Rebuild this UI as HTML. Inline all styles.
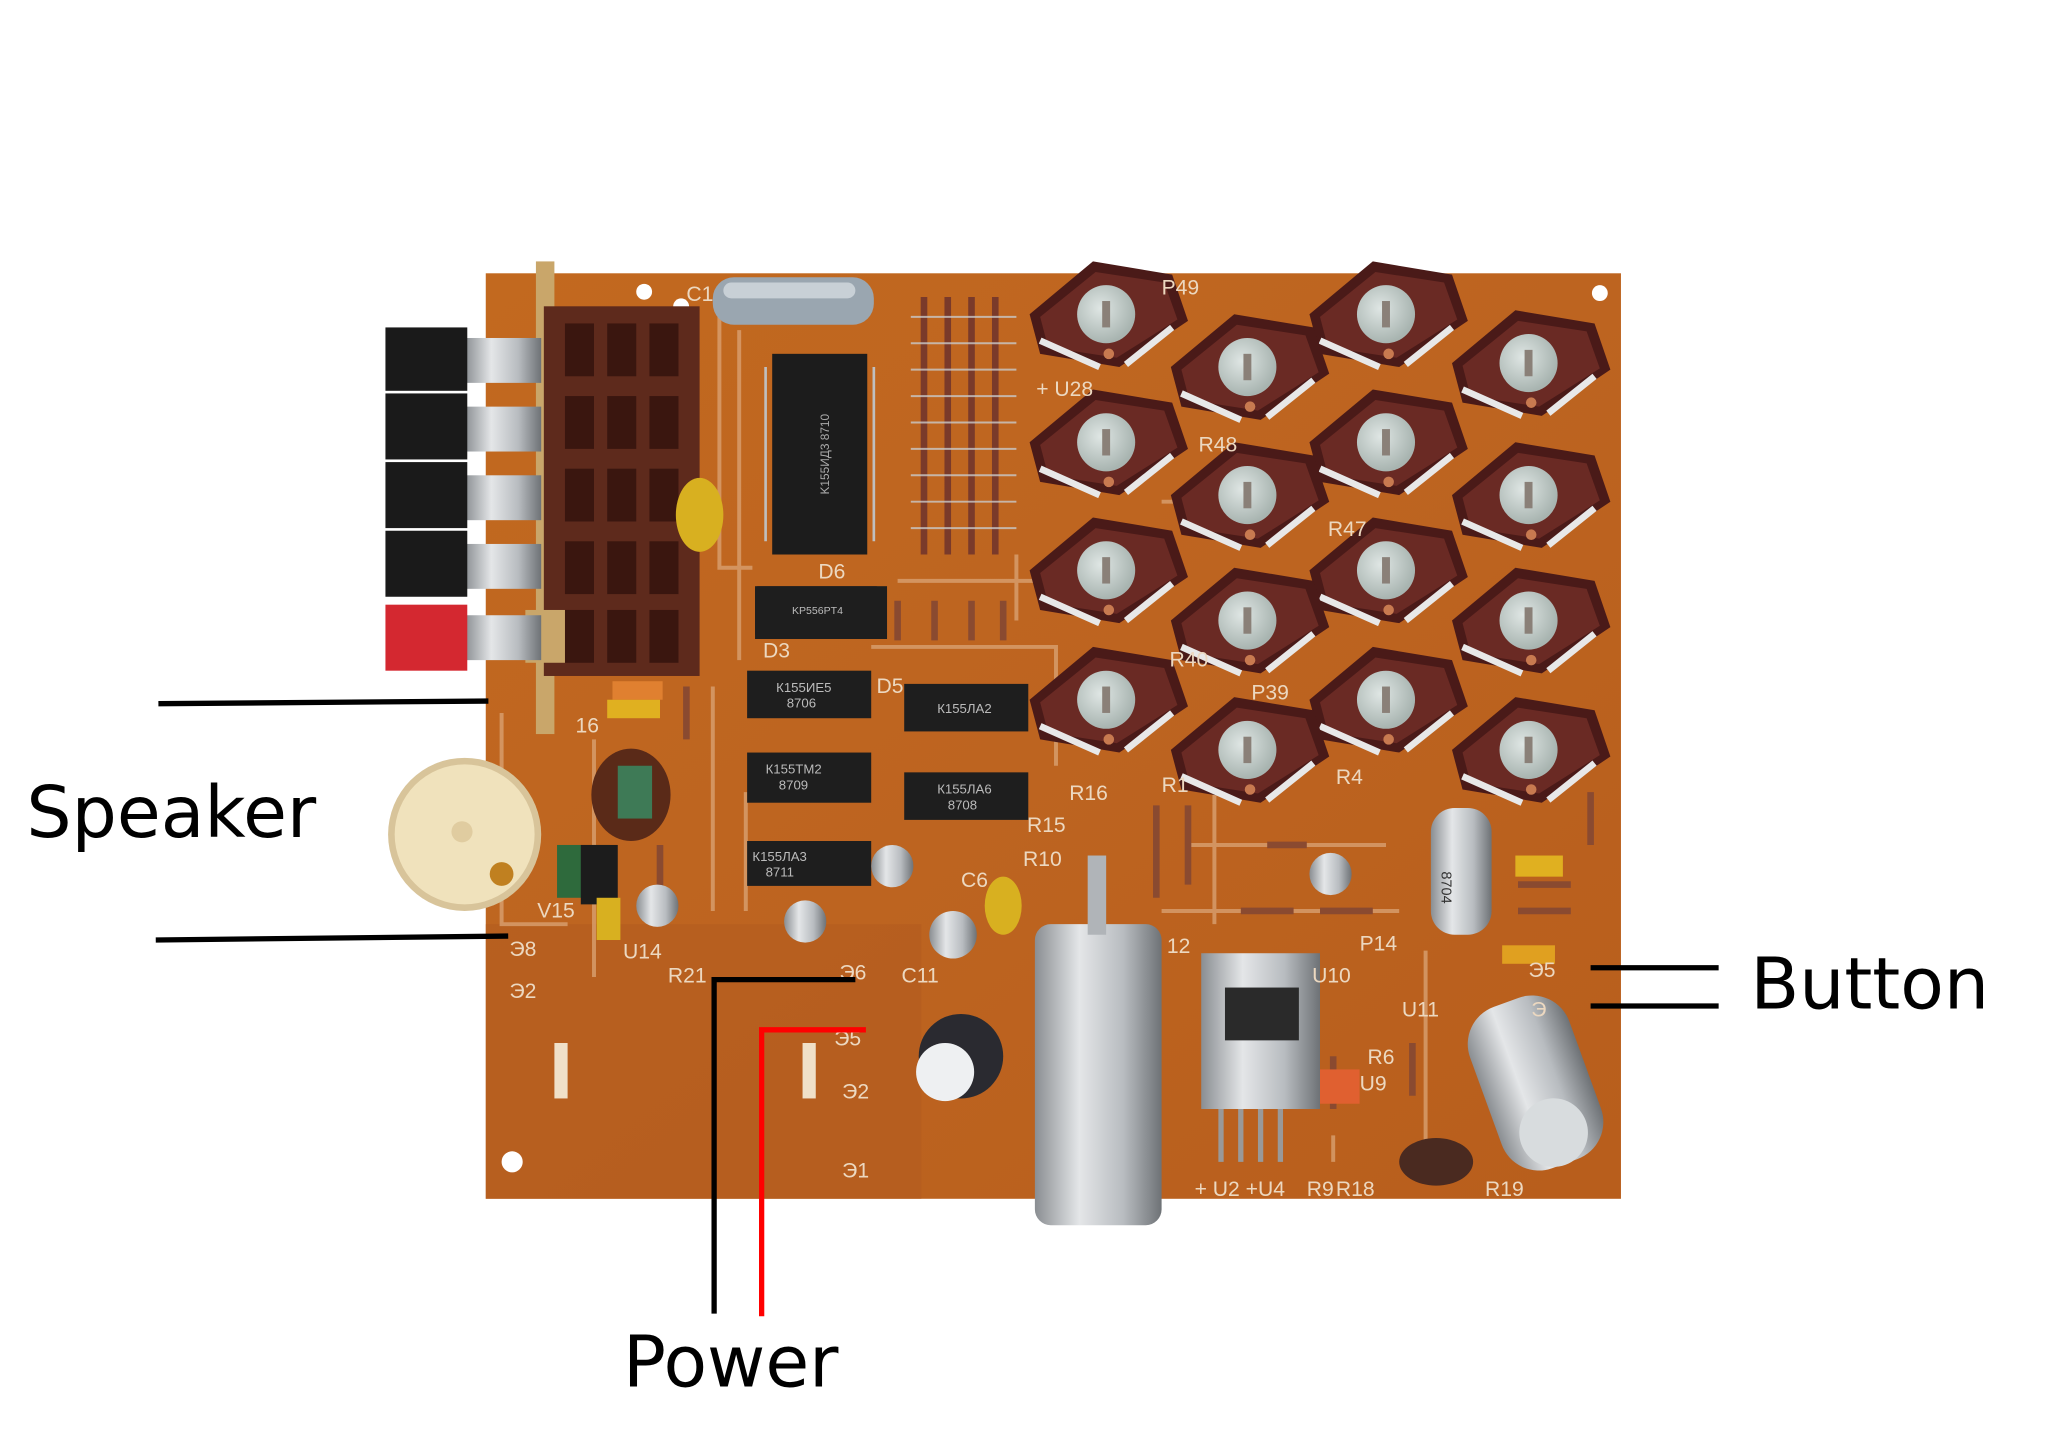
<!DOCTYPE html>
<html><head><meta charset="utf-8"><style>
html,body{margin:0;padding:0;background:#fff;}
svg{display:block;}
</style></head><body>
<svg width="2046" height="1447" viewBox="0 0 1550 1096" preserveAspectRatio="none" xmlns="http://www.w3.org/2000/svg">
<defs>
<linearGradient id="brd" x1="0" y1="0" x2="1" y2="1">
<stop offset="0" stop-color="#c2691f"/><stop offset="0.5" stop-color="#bd6420"/><stop offset="1" stop-color="#b85e1c"/>
</linearGradient>
<linearGradient id="met" x1="0" y1="0" x2="1" y2="0">
<stop offset="0" stop-color="#8a8e92"/><stop offset="0.35" stop-color="#e4e6e8"/><stop offset="0.7" stop-color="#b8bcc0"/><stop offset="1" stop-color="#6e7276"/>
</linearGradient>
<radialGradient id="pc" cx="0.4" cy="0.4" r="0.6"><stop offset="0" stop-color="#dfe6e4"/><stop offset="1" stop-color="#a8b4b0"/></radialGradient>
<g id="pot">
<polygon points="-58,0 -10,-40 50,-30 62,5 10,40 -50,30" fill="#4a1a18"/>
<polygon points="-50,2 -8,-32 44,-24 54,4 8,33 -44,25" fill="#6a2a24"/>
<line x1="-50" y1="20" x2="-5" y2="40" stroke="#e8e8e8" stroke-width="5"/>
<line x1="50" y1="10" x2="15" y2="38" stroke="#e8e8e8" stroke-width="5"/>
<circle r="22" fill="url(#pc)"/>
<rect x="-3" y="-10" width="6" height="20" fill="#8a8078"/>
<circle cx="2" cy="30" r="4" fill="#c87a50"/>
</g>
<g id="chip">
<rect width="94" height="38" rx="2" fill="#1e1e1e"/>
</g>
</defs>

<!-- board -->
<rect x="368" y="207" width="860" height="701" fill="url(#brd)"/>
<rect x="368" y="700" width="330" height="208" fill="#b35c20" opacity="0.6"/>
<circle cx="388" cy="880" r="8" fill="#fff"/>
<circle cx="488" cy="221" r="6" fill="#fff"/>
<circle cx="516" cy="232" r="6" fill="#fff"/>
<circle cx="1212" cy="222" r="6" fill="#fff"/>
<rect x="420" y="790" width="10" height="42" fill="#f0e0c8"/>
<rect x="608" y="790" width="10" height="42" fill="#f0e0c8"/>

<!-- traces -->
<g fill="none" stroke="#d8a070" stroke-width="3" opacity="0.8">
<path d="M545 240 V430 H570 M560 250 V500 M540 520 V690 M380 540 V700 H430 M450 560 V740 M565 600 V690 M680 440 H800 M660 490 H800 V580 M900 640 H1050 M880 690 H1060 M1080 720 V880 M1010 860 V880 M880 380 H1000 M770 420 V470 M920 600 V700"/>
</g>

<!-- tab -->
<rect x="406" y="198" width="14" height="358" fill="#c9a66a"/>
<!-- connector block -->
<rect x="412" y="232" width="118" height="280" fill="#5e2a1c"/>
<g fill="#3a160f">
<rect x="428" y="245" width="22" height="40"/><rect x="460" y="245" width="22" height="40"/><rect x="492" y="245" width="22" height="40"/>
<rect x="428" y="300" width="22" height="40"/><rect x="460" y="300" width="22" height="40"/><rect x="492" y="300" width="22" height="40"/>
<rect x="428" y="355" width="22" height="40"/><rect x="460" y="355" width="22" height="40"/><rect x="492" y="355" width="22" height="40"/>
<rect x="428" y="410" width="22" height="40"/><rect x="460" y="410" width="22" height="40"/><rect x="492" y="410" width="22" height="40"/>
<rect x="428" y="462" width="22" height="40"/><rect x="460" y="462" width="22" height="40"/><rect x="492" y="462" width="22" height="40"/>
</g>
<rect x="398" y="462" width="30" height="40" fill="#c9a66a"/>
<!-- springs -->
<g fill="url(#met)">
<rect x="352" y="256" width="58" height="34"/><rect x="352" y="308" width="58" height="34"/>
<rect x="352" y="360" width="58" height="34"/><rect x="352" y="412" width="58" height="34"/>
<rect x="352" y="466" width="58" height="34"/>
</g>
<!-- keys -->
<rect x="292" y="248" width="62" height="48" fill="#1a1a1a"/>
<rect x="292" y="298" width="62" height="50" fill="#1a1a1a"/>
<rect x="292" y="350" width="62" height="50" fill="#1a1a1a"/>
<rect x="292" y="402" width="62" height="50" fill="#1a1a1a"/>
<rect x="292" y="458" width="62" height="50" fill="#d42830"/>

<!-- gear -->
<circle cx="352" cy="632" r="58" fill="#d8c49a"/>
<circle cx="352" cy="632" r="53" fill="#f0e2bc"/>
<circle cx="350" cy="630" r="8" fill="#e0cca0"/>
<circle cx="380" cy="662" r="9" fill="#c08020"/>
<rect x="422" y="640" width="40" height="40" fill="#2e6a3c"/>
<rect x="440" y="640" width="28" height="45" fill="#1c1c1c"/>
<ellipse cx="478" cy="602" rx="30" ry="35" fill="#5a2a18"/>
<rect x="468" y="580" width="26" height="40" fill="#3e7a56"/>

<!-- big cap top -->
<rect x="540" y="210" width="122" height="36" rx="16" fill="#9aa6b0"/>
<rect x="548" y="214" width="100" height="12" rx="6" fill="#c8d0d6"/>
<!-- big chip -->
<rect x="585" y="268" width="72" height="152" fill="#1c1c1c"/>
<text x="628" y="344" fill="#aaa" font-size="9" font-family="Liberation Sans, sans-serif" transform="rotate(-90 628 344)" text-anchor="middle">K155ИД3 8710</text>
<g stroke="#bfbfbf" stroke-width="2">
<path d="M580 278 V410 M662 278 V410"/>
</g>
<!-- resistor columns -->
<g stroke="#7a3a2a" stroke-width="5">
<path d="M700 225 V420 M718 225 V420 M736 225 V420 M754 225 V420"/>
</g>
<g stroke="#c9c9c9" stroke-width="1.5" opacity="0.8">
<path d="M690 240 H770 M690 260 H770 M690 280 H770 M690 300 H770 M690 320 H770 M690 340 H770 M690 360 H770 M690 380 H770 M690 400 H770"/>
</g>
<ellipse cx="530" cy="390" rx="18" ry="28" fill="#d8b020"/>

<!-- chips -->
<use href="#chip" x="572" y="444" transform=""/>
<rect x="572" y="444" width="100" height="40" fill="#1e1e1e"/>
<text x="600" y="465" fill="#bbb" font-size="8" font-family="Liberation Sans, sans-serif">KP556PT4</text>
<rect x="566" y="508" width="94" height="36" fill="#1e1e1e"/>
<text x="588" y="524" fill="#bbb" font-size="10" font-family="Liberation Sans, sans-serif">К155ИЕ5</text>
<text x="596" y="536" fill="#bbb" font-size="10" font-family="Liberation Sans, sans-serif">8706</text>
<rect x="685" y="518" width="94" height="36" fill="#1e1e1e"/>
<text x="710" y="540" fill="#bbb" font-size="10" font-family="Liberation Sans, sans-serif">К155ЛА2</text>
<rect x="566" y="570" width="94" height="38" fill="#1e1e1e"/>
<text x="580" y="586" fill="#bbb" font-size="10" font-family="Liberation Sans, sans-serif">К155ТМ2</text>
<text x="590" y="598" fill="#bbb" font-size="10" font-family="Liberation Sans, sans-serif">8709</text>
<rect x="685" y="585" width="94" height="36" fill="#1e1e1e"/>
<text x="710" y="601" fill="#bbb" font-size="10" font-family="Liberation Sans, sans-serif">К155ЛА6</text>
<text x="718" y="613" fill="#bbb" font-size="10" font-family="Liberation Sans, sans-serif">8708</text>
<rect x="566" y="637" width="94" height="34" fill="#1e1e1e"/>
<text x="570" y="652" fill="#bbb" font-size="10" font-family="Liberation Sans, sans-serif">К155ЛА3</text>
<text x="580" y="664" fill="#bbb" font-size="10" font-family="Liberation Sans, sans-serif">8711</text>
<!-- small resistors -->
<g stroke="#8a4a30" stroke-width="5">
<path d="M680 455 V485 M708 455 V485 M736 455 V485 M760 455 V485 M520 520 V560 M500 640 V680 M876 610 V680 M900 610 V670 M960 640 H990 M1000 690 H1040 M940 690 H980 M1010 800 V840 M1070 790 V830 M1100 870 V890 M1150 670 H1190 M1150 690 H1190 M1205 600 V640"/>
</g>
<!-- small caps -->
<rect x="464" y="516" width="38" height="14" fill="#e08030"/>
<rect x="460" y="530" width="40" height="14" fill="#e0b020"/>
<rect x="452" y="680" width="18" height="32" fill="#d8b020"/>
<ellipse cx="760" cy="686" rx="14" ry="22" fill="#d8b020"/>
<rect x="1148" y="648" width="36" height="16" fill="#e0b020"/>
<rect x="1138" y="716" width="40" height="14" fill="#e0a020"/>
<rect x="996" y="810" width="34" height="26" fill="#e06030"/>
<circle cx="498" cy="686" r="16" fill="url(#met)"/>
<circle cx="610" cy="698" r="16" fill="url(#met)"/>
<circle cx="676" cy="656" r="16" fill="url(#met)"/>
<circle cx="722" cy="708" r="18" fill="url(#met)"/>
<circle cx="1008" cy="662" r="16" fill="url(#met)"/>
<circle cx="728" cy="800" r="32" fill="#2a2a30"/>
<circle cx="716" cy="812" r="22" fill="#eef0f2"/>
<rect x="1084" y="612" width="46" height="96" rx="18" fill="url(#met)"/>
<text x="1112" y="680" fill="#333" font-size="11" font-family="Liberation Sans, sans-serif" transform="rotate(90 1112 660)">8704</text>

<!-- pots -->
<use href="#pot" x="838" y="238"/><use href="#pot" x="1050" y="238"/>
<use href="#pot" x="945" y="278"/><use href="#pot" x="1158" y="275"/>
<use href="#pot" x="838" y="335"/><use href="#pot" x="1050" y="335"/>
<use href="#pot" x="945" y="375"/><use href="#pot" x="1158" y="375"/>
<use href="#pot" x="838" y="432"/><use href="#pot" x="1050" y="432"/>
<use href="#pot" x="945" y="470"/><use href="#pot" x="1158" y="470"/>
<use href="#pot" x="838" y="530"/><use href="#pot" x="1050" y="530"/>
<use href="#pot" x="945" y="568"/><use href="#pot" x="1158" y="568"/>

<!-- metal cylinder -->
<rect x="784" y="700" width="96" height="228" rx="12" fill="url(#met)"/>
<rect x="824" y="648" width="14" height="60" fill="#b0b4b8"/>
<!-- heatsink -->
<rect x="910" y="722" width="90" height="118" fill="url(#met)"/>
<rect x="928" y="748" width="56" height="40" fill="#2a2a2a"/>
<g stroke="#999" stroke-width="4"><path d="M925 840 V880 M940 840 V880 M955 840 V880 M970 840 V880"/></g>
<!-- angled cylinder cap -->
<g transform="rotate(-20 1165 825)">
<rect x="1125" y="755" width="80" height="130" rx="30" fill="url(#met)"/>
<circle cx="1165" cy="860" r="26" fill="#d8dcde"/>
</g>
<ellipse cx="1088" cy="880" rx="28" ry="18" fill="#4a2a20"/>

<!-- board labels -->
<g fill="#ecd8c0" font-family="Liberation Sans, sans-serif" font-size="16">
<text x="785" y="300">+ U28</text><text x="880" y="223">P49</text><text x="520" y="228">C1</text>
<text x="810" y="606">R16</text><text x="1012" y="594">R4</text><text x="880" y="600">R1</text>
<text x="778" y="630">R15</text><text x="775" y="656">R10</text><text x="728" y="672">C6</text>
<text x="436" y="555">16</text><text x="407" y="695">V15</text><text x="472" y="726">U14</text>
<text x="506" y="744">R21</text><text x="636" y="742">Э6</text><text x="683" y="744">C11</text>
<text x="632" y="792">Э5</text><text x="638" y="832">Э2</text><text x="638" y="892">Э1</text>
<text x="994" y="744">U10</text><text x="1036" y="806">R6</text><text x="1030" y="720">P14</text>
<text x="1030" y="826">U9</text><text x="1062" y="770">U11</text><text x="884" y="722">12</text>
<text x="905" y="906">+ U2 +U4</text><text x="990" y="906">R9</text><text x="1012" y="906">R18</text>
<text x="1125" y="906">R19</text><text x="1158" y="740">Э5</text><text x="1160" y="770">Э</text>
<text x="386" y="724">Э8</text><text x="386" y="756">Э2</text><text x="886" y="505">R40</text>
<text x="948" y="530">P39</text><text x="1006" y="406">R47</text><text x="908" y="342">R48</text>
<text x="578" y="498">D3</text><text x="664" y="525">D5</text><text x="620" y="438">D6</text>
</g>

<!-- wires -->
<g fill="none" stroke-width="4">
<path d="M120 533 L370 531" stroke="#000"/>
<path d="M118 712 L385 709" stroke="#000"/>
<path d="M1205 733 H1302 M1205 762 H1302" stroke="#000"/>
<path d="M648 742 H541 V995" stroke="#000"/>
<path d="M656 780 H577 V997" stroke="#f00"/>
</g>

<!-- labels -->
<g font-family="DejaVu Sans, Liberation Sans, sans-serif" fill="#000" font-size="54">
<text x="20" y="634">Speaker</text>
<text x="1326" y="764">Button</text>
<text x="472" y="1050">Power</text>
</g>
</svg>
</body></html>
